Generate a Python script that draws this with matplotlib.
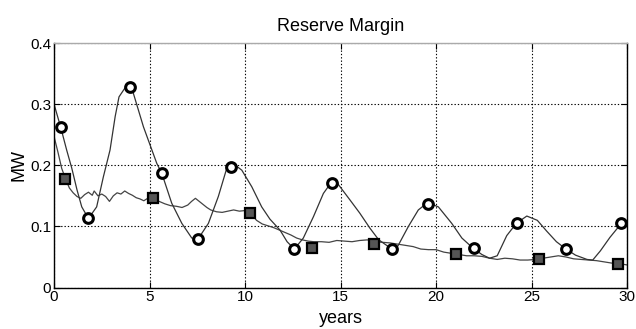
import matplotlib
matplotlib.use("Agg")
import matplotlib.pyplot as plt

plt.rcParams['font.family'] = ['Liberation Sans', 'DejaVu Sans']

# smooth oscillating curve (vertices)
osc_x = [0.0, 0.35, 0.66, 0.93, 1.2, 1.45, 1.8, 2.23, 2.58, 2.93, 3.2, 3.4, 3.7, 3.96,
         4.15, 4.68, 5.38, 5.64, 6.16, 6.69, 7.21, 7.55, 8.08, 8.6, 9.04, 9.3, 9.5, 9.83,
         10.35, 10.87, 11.3, 11.83, 12.2, 12.58, 13.05, 13.58, 14.1, 14.49, 14.8, 15.5,
         16.0, 16.54, 17.0, 17.64, 18.0, 18.55, 19.07, 19.56, 20.12, 20.82, 21.35, 21.95,
         22.4, 22.8, 23.2, 23.7, 24.2, 24.75, 25.3, 25.8, 26.3, 26.8, 27.3, 27.9, 28.2,
         28.6, 29.1, 29.7]
osc_y = [0.300, 0.262, 0.225, 0.195, 0.160, 0.132, 0.113, 0.132, 0.181, 0.225, 0.280,
         0.312, 0.326, 0.328, 0.318, 0.263, 0.203, 0.187, 0.138, 0.105, 0.081, 0.080,
         0.105, 0.149, 0.195, 0.197, 0.200, 0.192, 0.165, 0.132, 0.112, 0.094, 0.075,
         0.063, 0.081, 0.116, 0.154, 0.171, 0.172, 0.143, 0.122, 0.097, 0.078, 0.064,
         0.068, 0.100, 0.127, 0.139, 0.132, 0.105, 0.081, 0.064, 0.054, 0.048, 0.052,
         0.085, 0.105, 0.117, 0.110, 0.092, 0.075, 0.063, 0.053, 0.046, 0.045, 0.060,
         0.082, 0.105]

# noisy declining curve
noisy_x = [0.0, 0.2, 0.4, 0.6, 0.8, 1.0, 1.2, 1.4, 1.6, 1.8, 2.0, 2.1, 2.3, 2.5, 2.7,
           2.9, 3.1, 3.3, 3.5, 3.7, 3.9, 4.1, 4.3, 4.5, 4.7, 4.9, 5.2, 5.5, 5.8, 6.1,
           6.4, 6.7, 7.0, 7.2, 7.4, 7.6, 7.8, 8.0, 8.2, 8.5, 8.8, 9.1, 9.4, 9.7, 10.0,
           10.3, 10.6, 10.9, 11.2, 11.5, 11.8, 12.1, 12.4, 12.7, 13.0, 13.3, 13.6, 14.0,
           14.4, 14.8, 15.2, 15.6, 16.0, 16.4, 16.8, 17.2, 17.6, 18.0, 18.4, 18.8, 19.2,
           19.6, 20.0, 20.4, 20.8, 21.2, 21.6, 22.0, 22.4, 22.8, 23.2, 23.6, 24.0, 24.4,
           24.8, 25.2, 25.6, 26.0, 26.4, 26.8, 27.2, 27.6, 28.0, 28.4, 28.8, 29.2, 29.6,
           30.0]
noisy_y = [0.247, 0.222, 0.195, 0.178, 0.163, 0.155, 0.149, 0.146, 0.152, 0.156, 0.151,
           0.158, 0.150, 0.153, 0.149, 0.141, 0.150, 0.155, 0.153, 0.158, 0.154, 0.151,
           0.147, 0.145, 0.142, 0.146, 0.146, 0.141, 0.137, 0.134, 0.133, 0.131, 0.135,
           0.141, 0.146, 0.141, 0.136, 0.131, 0.127, 0.124, 0.123, 0.125, 0.127, 0.125,
           0.126, 0.121, 0.110, 0.104, 0.101, 0.098, 0.094, 0.090, 0.086, 0.081, 0.078,
           0.076, 0.075, 0.075, 0.074, 0.077, 0.076, 0.075, 0.077, 0.078, 0.075, 0.074,
           0.073, 0.071, 0.069, 0.067, 0.063, 0.062, 0.062, 0.058, 0.056, 0.054, 0.052,
           0.052, 0.051, 0.048, 0.046, 0.048, 0.047, 0.045, 0.045, 0.046, 0.048, 0.050,
           0.052, 0.050, 0.047, 0.046, 0.045, 0.044, 0.042, 0.040, 0.039, 0.037]

circ_x = [0.35, 1.78, 3.96, 5.64, 7.55, 9.25, 12.58, 14.54, 17.7, 19.6, 22.0, 24.26, 26.8, 29.7]
circ_y = [0.262, 0.113, 0.328, 0.187, 0.080, 0.197, 0.063, 0.171, 0.063, 0.137, 0.064,
          0.105, 0.063, 0.105]

sq_x = [0.59, 5.17, 10.24, 13.5, 16.74, 21.05, 25.38, 29.5]
sq_y = [0.178, 0.146, 0.122, 0.064, 0.071, 0.055, 0.047, 0.039]

fig = plt.figure(figsize=(6.36, 3.29), dpi=100)
ax = fig.add_axes([0.085, 0.126, 0.901, 0.743])

ax.plot(noisy_x, noisy_y, color='#444444', lw=0.9)
ax.plot(osc_x, osc_y, color='#333333', lw=0.9)
ax.plot(sq_x, sq_y, 's', ms=7.5, mfc='#555555', mec='black', mew=1.6, ls='none')
ax.plot(circ_x, circ_y, 'o', ms=7, mfc='white', mec='black', mew=2.2, ls='none')

ax.set_xlim(0, 30)
ax.set_ylim(0, 0.4)
ax.set_xticks([0, 5, 10, 15, 20, 25, 30])
ax.set_yticks([0, 0.1, 0.2, 0.3, 0.4])
ax.set_yticklabels(['0', '0.1', '0.2', '0.3', '0.4'])
ax.grid(True, color='black', ls=(0, (1.2, 1.8)), lw=0.8)
ax.tick_params(direction='in', top=True, right=True, labelsize=11, length=4, pad=2)
for s in ax.spines.values():
    s.set_linewidth(1.0)
ax.spines['top'].set_color('#aaaaaa')

ax.set_title('Reserve Margin', fontsize=13, pad=9)
ax.set_xlabel('years', fontsize=13, labelpad=4)
ax.set_ylabel('MW', fontsize=13, labelpad=2)

fig.savefig('out.png', dpi=100)
